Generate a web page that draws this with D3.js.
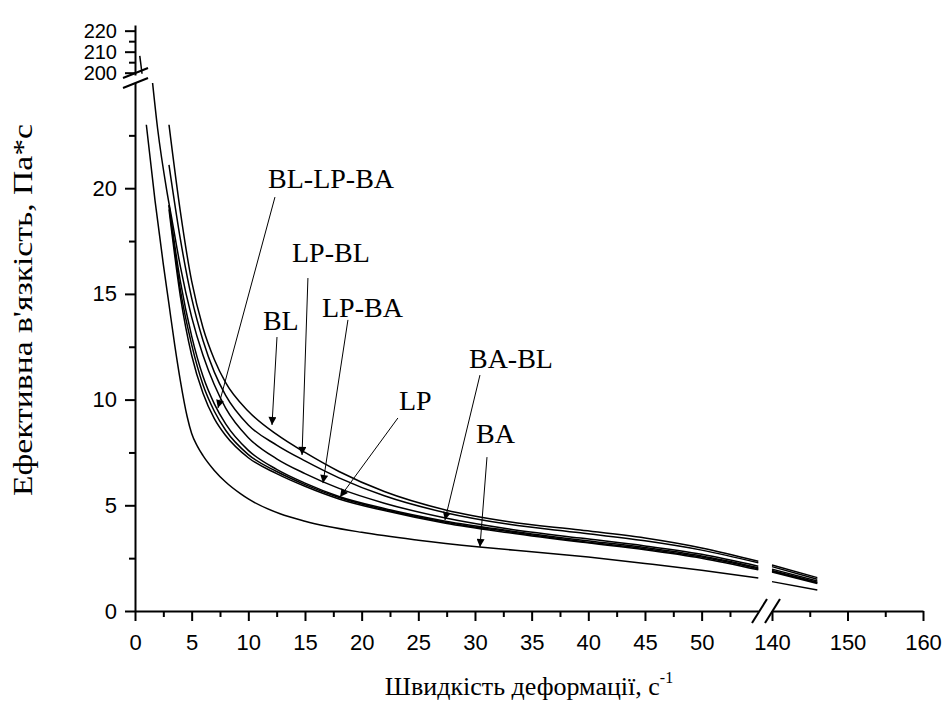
<!DOCTYPE html>
<html>
<head>
<meta charset="utf-8">
<script src="https://cdn.jsdelivr.net/npm/d3@7"></script>
<style>
    body { margin: 0; background: #fff; }
    svg { display: block; }
    .serif { font-family: "Liberation Serif", "Times New Roman", Tinos, "DejaVu Serif", serif; }
    .sans { font-family: "Liberation Sans", Arial, Arimo, sans-serif; }
</style>
</head>
<body>
<svg id="chart" width="946" height="704"></svg>
<script>
// shear rate (1/s) vs effective viscosity (Pa*s)
var xLeftTicks = [0, 5, 10, 15, 20, 25, 30, 35, 40, 45, 50];
var xLeftMinor = [2.5, 7.5, 12.5, 17.5, 22.5, 27.5, 32.5, 37.5, 42.5, 47.5, 52.5];
var xRightTicks = [140, 150, 160];
var xRightMinor = [145, 155];
var yLowTicks = [0, 5, 10, 15, 20];
var yLowMinor = [2.5, 7.5, 12.5, 17.5, 22.5];
var yHighTicks = [200, 210, 220];
var yHighMinor = [205, 215];

var serBL = [[3, 23], [4, 18.9], [5, 15.6], [6, 13.4], [7, 11.9], [8, 10.8], [10, 9.45], [12.5, 8.35], [15, 7.5], [18, 6.6], [22, 5.65], [27.4, 4.78], [33, 4.22], [39.3, 3.83], [45, 3.45], [50, 2.98], [55, 2.35]];
var serLPBL = [[3, 21.1], [4, 17.6], [5, 14.8], [6, 12.8], [7, 11.3], [8, 10.2], [10, 8.8], [12.5, 7.85], [15, 7.1], [18, 6.3], [22, 5.45], [27.4, 4.65], [33, 4.1], [39.3, 3.7], [45, 3.32], [50, 2.88], [55, 2.28]];
var serLPBA = [[1.45, 25.5], [2, 22.8], [2.8, 19.9], [3.3, 18.4], [4, 16.3], [5, 13.9], [6, 12.1], [7, 10.7], [8, 9.6], [10, 8.2], [12.5, 7.2], [15, 6.5], [18, 5.8], [22, 5.1], [27.4, 4.4], [33, 3.88], [39.3, 3.45], [45, 3.08], [50, 2.68], [55, 2.12]];
var serLPBAtop = [[0.42, 208], [0.62, 199.5]];
var serLP = [[3, 19.2], [4, 15.6], [5, 13.0], [6, 11.1], [7, 9.8], [8, 8.85], [10, 7.6], [12.5, 6.7], [15, 6.05], [18, 5.42], [22, 4.85], [27.4, 4.25], [33, 3.8], [39.3, 3.36], [45, 3.0], [50, 2.6], [55, 2.05]];
var serBABL = [[3, 19.2], [4, 15.2], [5, 12.6], [6, 10.7], [7, 9.45], [8, 8.55], [10, 7.4], [12.5, 6.6], [15, 5.98], [18, 5.37], [22, 4.8], [27.4, 4.2], [33, 3.75], [39.3, 3.3], [45, 2.95], [50, 2.55], [55, 2.0]];
var serBLLPBA = [[3, 19.0], [4, 14.9], [5, 12.1], [6, 10.3], [7, 9.1], [8, 8.3], [10, 7.25], [12.5, 6.5], [15, 5.9], [18, 5.3], [22, 4.75], [27.4, 4.15], [33, 3.7], [39.3, 3.26], [45, 2.9], [50, 2.5], [55, 1.95]];
var serBA = [[1, 23], [1.77, 19.4], [2.5, 16.4], [3, 14.5], [3.5, 12.6], [4, 10.9], [4.6, 9.2], [5, 8.4], [5.5, 7.8], [6, 7.35], [7, 6.65], [8, 6.1], [9.3, 5.55], [10, 5.3], [12.8, 4.6], [15, 4.25], [20, 3.72], [25, 3.35], [30.4, 3.03], [35, 2.8], [40, 2.55], [45, 2.25], [50, 1.93], [55, 1.56]];

// same curves after the axis break (140..146 1/s)
var tailBL = [[140, 2.18], [146, 1.58]];
var tailLPBL = [[140, 2.1], [146, 1.5]];
var tailLPBA = [[140, 1.98], [146, 1.42]];
var tailLP = [[140, 1.92], [146, 1.36]];
var tailBABL = [[140, 1.88], [146, 1.33]];
var tailBLLPBA = [[140, 1.84], [146, 1.3]];
var tailBA = [[140, 1.39], [146, 0.99]];

// label text, label anchor [x, y], arrow tail, arrow tip (data units)
var labelNames = ["BL-LP-BA", "LP-BL", "BL", "LP-BA", "LP", "BA-BL", "BA"];
var labelAt = [[11.74, 20.0], [13.85, 16.51], [11.29, 13.29], [16.5, 13.9], [23.29, 9.51], [29.47, 11.49], [30.09, 7.95]];
var arrowFrom = [[12.35, 19.58], [12.53, 12.96], [15.26, 15.75], [18.79, 13.77], [23.2, 9.13], [30.44, 11.16], [31.06, 7.28]];
var arrowTo = [[7.32, 9.6], [12.09, 8.8], [14.74, 7.38], [16.59, 6.05], [18.09, 5.39], [27.35, 4.3], [30.44, 3.03]];

var svg = d3.select("#chart");

var xLeft = d3.scaleLinear().domain([0, 55]).range([135, 758.3]);
var xRight = d3.scaleLinear().domain([140, 160]).range([772, 923]);
var yLow = d3.scaleLinear().domain([0, 25]).range([611, 82.5]);
var yHigh = d3.scaleLinear().domain([198.9, 222.7]).range([75, 25]);

function styleAxis(g, fontSize) {
    g.selectAll("path").attr("stroke-width", 2);
    g.selectAll("line").attr("stroke-width", 2);
    g.attr("font-family", null).attr("font-size", null);
    g.selectAll("text").attr("class", "sans").style("font-size", fontSize + "px").attr("fill", "#000");
}

function drawAxis(axisFn, scale, major, minor, transform, pad, fontSize) {
    var gMaj = svg.append("g").attr("transform", transform)
        .call(axisFn(scale).tickValues(major).tickSize(10).tickSizeOuter(0).tickPadding(pad));
    styleAxis(gMaj, fontSize);
    var gMin = svg.append("g").attr("transform", transform)
        .call(axisFn(scale).tickValues(minor).tickSize(6).tickSizeOuter(0).tickFormat(""));
    styleAxis(gMin, fontSize);
    gMin.select(".domain").remove();
}

drawAxis(d3.axisBottom, xLeft, xLeftTicks, xLeftMinor, "translate(0,611)", 13, 22);
drawAxis(d3.axisBottom, xRight, xRightTicks, xRightMinor, "translate(0,611)", 13, 22);
drawAxis(d3.axisLeft, yLow, yLowTicks, yLowMinor, "translate(135,0)", 8, 22);
drawAxis(d3.axisLeft, yHigh, yHighTicks, yHighMinor, "translate(135,0)", 8, 20);

// break marks
var breaks = svg.append("g").attr("stroke", "#000").attr("stroke-width", 2);
[0, 10].forEach(function (d) {
    breaks.append("line").attr("x1", 123).attr("y1", 78 + d).attr("x2", 148).attr("y2", 68 + d);
});
[0, 13].forEach(function (d) {
    breaks.append("line").attr("x1", 752 + d).attr("y1", 623).attr("x2", 767 + d).attr("y2", 599);
});

// curves
svg.append("clipPath").attr("id", "clipLow")
    .append("rect").attr("x", 135).attr("y", 83).attr("width", 640).attr("height", 528);

var lineLeft = d3.line().x(function (d) { return xLeft(d[0]); })
    .y(function (d) { return yLow(d[1]); }).curve(d3.curveMonotoneX);
var lineRight = d3.line().x(function (d) { return xRight(d[0]); })
    .y(function (d) { return yLow(d[1]); });
var lineTop = d3.line().x(function (d) { return xLeft(d[0]); })
    .y(function (d) { return yHigh(d[1]); });

var curves = svg.append("g").attr("fill", "none").attr("stroke", "#000").attr("stroke-width", 1.5);
var leftSeries = [serBL, serLPBL, serLPBA, serLP, serBABL, serBLLPBA, serBA];
var rightSeries = [tailBL, tailLPBL, tailLPBA, tailLP, tailBABL, tailBLLPBA, tailBA];
leftSeries.forEach(function (s) {
    curves.append("path").attr("d", lineLeft(s)).attr("clip-path", "url(#clipLow)");
});
rightSeries.forEach(function (s) {
    curves.append("path").attr("d", lineRight(s));
});
curves.append("path").attr("d", lineTop(serLPBAtop));

// labels with arrows
svg.append("defs").append("marker")
    .attr("id", "arrowHead")
    .attr("viewBox", "0 0 10 10")
    .attr("refX", 10).attr("refY", 5)
    .attr("markerWidth", 12).attr("markerHeight", 8)
    .attr("markerUnits", "userSpaceOnUse")
    .attr("orient", "auto")
    .append("path").attr("d", "M0,0L10,5L0,10Z").attr("fill", "#000");

var notes = svg.append("g");
labelNames.forEach(function (name, i) {
    notes.append("line")
        .attr("x1", xLeft(arrowFrom[i][0])).attr("y1", yLow(arrowFrom[i][1]))
        .attr("x2", xLeft(arrowTo[i][0])).attr("y2", yLow(arrowTo[i][1]))
        .attr("stroke", "#000").attr("stroke-width", 1)
        .attr("marker-end", "url(#arrowHead)");
    notes.append("text")
        .attr("class", "serif")
        .attr("x", xLeft(labelAt[i][0])).attr("y", yLow(labelAt[i][1]))
        .style("font-size", "28px")
        .text(name);
});

// axis titles
var xt = svg.append("text")
    .attr("class", "serif")
    .attr("x", 529).attr("y", 695)
    .attr("text-anchor", "middle")
    .style("font-size", "26px");
xt.append("tspan").text("Швидкість деформації, с");
xt.append("tspan").attr("dy", -12).style("font-size", "16px").text("-1");

svg.append("text")
    .attr("class", "serif")
    .attr("transform", "translate(32,310) rotate(-90)")
    .attr("text-anchor", "middle")
    .attr("textLength", 372).attr("lengthAdjust", "spacingAndGlyphs")
    .style("font-size", "28px")
    .text("Ефективна в'язкість, Па*с");
</script>
</body>
</html>
